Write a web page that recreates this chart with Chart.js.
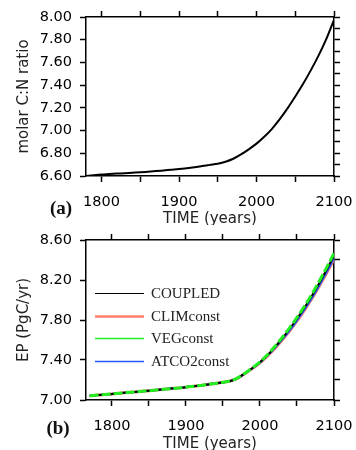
<!DOCTYPE html>
<html>
<head>
<meta charset="utf-8">
<script src="https://cdn.jsdelivr.net/npm/chart.js@4/dist/chart.umd.min.js"></script>
<style>
  body { margin: 0; background: #fff; width: 356px; height: 450px; position: relative; overflow: hidden; }
  canvas { position: absolute; left: 0; }
  #cnChart { top: 0; }
  #epChart { top: 225px; }
  .tag { position: absolute; font: bold 19px "Liberation Serif", serif; color: #111; transform: translate(-50%, -50%); }
</style>
</head>
<body>
<canvas id="cnChart" width="356" height="225"></canvas>
<canvas id="epChart" width="356" height="225"></canvas>
<div class="tag" style="left:61px; top:208px;">(a)</div>
<div class="tag" style="left:58px; top:428px;">(b)</div>
<script>
// Panel (a): molar C:N ratio
const cnYears = [1780, 1790, 1800, 1810, 1820, 1830, 1840, 1850, 1860, 1870, 1880, 1890, 1900,
  1910, 1920, 1930, 1940, 1950, 1960, 1970, 1980, 1990, 2000, 2010, 2020, 2030, 2040, 2050,
  2060, 2070, 2080, 2090, 2100];
const cnRatio = [6.600, 6.607, 6.613, 6.617, 6.621, 6.625, 6.629, 6.633, 6.638, 6.643, 6.649, 6.655, 6.661,
  6.669, 6.678, 6.688, 6.698, 6.708, 6.725, 6.752, 6.790, 6.835, 6.885, 6.945, 7.015, 7.100, 7.195, 7.300,
  7.410, 7.530, 7.660, 7.805, 7.975];

// Panel (b): EP (PgC/yr), four runs
const epYears = [1770, 1780, 1790, 1800, 1810, 1820, 1830, 1840, 1850, 1860, 1870, 1880, 1890, 1900,
  1910, 1920, 1930, 1940, 1950, 1960, 1970, 1980, 1990, 2000, 2010, 2020, 2030, 2040, 2050,
  2060, 2070, 2080, 2090, 2100];
const epCoupled = [7.043, 7.049, 7.055, 7.060, 7.067, 7.074, 7.080, 7.087, 7.093, 7.100, 7.107, 7.114, 7.121, 7.128,
  7.137, 7.146, 7.156, 7.166, 7.177, 7.190, 7.220, 7.268, 7.320, 7.378, 7.447, 7.527, 7.615, 7.710, 7.812,
  7.922, 8.040, 8.168, 8.303, 8.445];
const epClim = [7.043, 7.049, 7.055, 7.060, 7.067, 7.074, 7.080, 7.087, 7.093, 7.100, 7.107, 7.114, 7.121, 7.128,
  7.137, 7.146, 7.156, 7.166, 7.177, 7.190, 7.219, 7.266, 7.316, 7.372, 7.439, 7.515, 7.600, 7.690, 7.790,
  7.897, 8.012, 8.138, 8.270, 8.410];
const epVeg = [7.043, 7.049, 7.055, 7.060, 7.067, 7.074, 7.080, 7.087, 7.093, 7.100, 7.107, 7.114, 7.121, 7.128,
  7.137, 7.146, 7.156, 7.166, 7.177, 7.191, 7.221, 7.270, 7.323, 7.382, 7.452, 7.535, 7.625, 7.722, 7.826,
  7.937, 8.057, 8.188, 8.325, 8.468];
const epAtco2 = [7.043, 7.049, 7.055, 7.060, 7.067, 7.074, 7.080, 7.087, 7.093, 7.100, 7.107, 7.114, 7.121, 7.128,
  7.137, 7.146, 7.156, 7.166, 7.177, 7.190, 7.219, 7.266, 7.317, 7.373, 7.441, 7.518, 7.603, 7.694, 7.794,
  7.902, 8.017, 8.143, 8.276, 8.418];
const runNames = ['COUPLED', 'CLIMconst', 'VEGconst', 'ATCO2const'];

// Tick positions and which of them carry a label
const yearTicks = [1800, 1850, 1900, 1950, 2000, 2050, 2100];
const yearLabels = [1800, 1900, 2000, 2100];
const cnTicks = [6.6, 6.7, 6.8, 6.9, 7.0, 7.1, 7.2, 7.3, 7.4, 7.5, 7.6, 7.7, 7.8, 7.9, 8.0];
const cnLabels = [6.6, 6.8, 7.0, 7.2, 7.4, 7.6, 7.8, 8.0];
const epTicks = [7.0, 7.2, 7.4, 7.6, 7.8, 8.0, 8.2, 8.4, 8.6];
const epLabels = [7.0, 7.4, 7.8, 8.2, 8.6];

const toPoints = (xs, ys) => xs.map((x, i) => ({ x: x, y: ys[i] }));
const near = (list, v) => list.some(t => Math.abs(t - v) < 1e-6);

const tickFont = { family: '"DejaVu Sans"', size: 14.5 };
const titleFont = { family: '"DejaVu Sans"', size: 15 };

// fixed axis box, no extra room for overhanging labels
function fixSize(w, h) {
  return s => {
    if (w !== null) s.width = w;
    if (h !== null) s.height = h;
    s.paddingLeft = 0; s.paddingRight = 0; s.paddingTop = 0; s.paddingBottom = 0;
  };
}

// builds the four framing axes; only left and bottom get labels
function frameScales(xMin, xMax, yMin, yMax, yTicks, yLabels, yTitle, xH) {
  const grid = { drawOnChartArea: false, tickLength: 6, tickWidth: 1.5, color: '#000' };
  const border = { color: '#000', width: 1.5 };
  return {
    x: {
      type: 'linear', position: 'bottom', min: xMin, max: xMax,
      grid: grid, border: border,
      afterBuildTicks: s => { s.ticks = yearTicks.map(v => ({ value: v })); },
      afterFit: fixSize(null, xH),
      ticks: { font: tickFont, color: '#000', padding: 12, maxRotation: 0,
        callback: v => near(yearLabels, v) ? String(v) : '' },
      title: { display: true, text: 'TIME (years)', font: titleFont, color: '#222', padding: { top: 0, bottom: -3 } }
    },
    y: {
      type: 'linear', position: 'left', min: yMin, max: yMax,
      grid: grid, border: border,
      afterBuildTicks: s => { s.ticks = yTicks.map(v => ({ value: v })); },
      afterFit: fixSize(86, null),
      ticks: { font: tickFont, color: '#000', padding: 8,
        callback: v => near(yLabels, v) ? v.toFixed(2) : '' },
      title: { display: true, text: yTitle, font: titleFont, color: '#222', padding: { top: 15, bottom: 0 } }
    },
    x2: {
      type: 'linear', position: 'top', min: xMin, max: xMax,
      grid: grid, border: border,
      afterBuildTicks: s => { s.ticks = yearTicks.map(v => ({ value: v })); },
      afterFit: fixSize(null, 6),
      ticks: { display: false }
    },
    y2: {
      type: 'linear', position: 'right', min: yMin, max: yMax,
      grid: grid, border: border,
      afterBuildTicks: s => { s.ticks = yTicks.map(v => ({ value: v })); },
      afterFit: fixSize(6, null),
      ticks: { display: false }
    }
  };
}

// legend drawn inside the plot, like the original figure
const insideLegend = {
  id: 'insideLegend',
  afterDraw(chart) {
    const ctx = chart.ctx;
    ctx.save();
    ctx.font = '15px "Liberation Serif"';
    ctx.textBaseline = 'middle';
    ctx.fillStyle = '#222';
    const legendWidths = [1, 2.5, 1.5, 1.5];
    chart.data.datasets.forEach((ds, i) => {
      const y = Math.round(68 + i * 22.5) + 0.5;
      ctx.beginPath();
      ctx.strokeStyle = ds.borderColor;
      ctx.lineWidth = legendWidths[i];
      ctx.moveTo(95, y);
      ctx.lineTo(144, y);
      ctx.stroke();
      ctx.fillText(ds.label, 151, y + 1);
    });
    ctx.restore();
  }
};

const baseOpts = {
  responsive: false,
  animation: false,
  devicePixelRatio: 1,
  plugins: { legend: { display: false }, tooltip: { enabled: false } },
  elements: { point: { radius: 0 } }
};

new Chart(document.getElementById('cnChart'), {
  type: 'line',
  data: {
    datasets: [{
      label: 'C:N',
      data: toPoints(cnYears, cnRatio),
      borderColor: '#000',
      borderWidth: 2,
      cubicInterpolationMode: 'monotone'
    }]
  },
  options: Object.assign({}, baseOpts, {
    layout: { padding: { top: 11, right: 16, bottom: 0, left: 0 } },
    scales: frameScales(1780, 2100, 6.6, 8.0, cnTicks, cnLabels, 'molar C:N ratio', 49)
  })
});

new Chart(document.getElementById('epChart'), {
  type: 'line',
  data: {
    datasets: [
      { label: runNames[0], data: toPoints(epYears, epCoupled), borderColor: '#000', borderWidth: 2,
        order: 1, cubicInterpolationMode: 'monotone' },
      { label: runNames[1], data: toPoints(epYears, epClim), borderColor: '#ff7f6a', borderWidth: 3,
        order: 3, cubicInterpolationMode: 'monotone' },
      { label: runNames[2], data: toPoints(epYears, epVeg), borderColor: '#22ee22', borderWidth: 3,
        borderDash: [9, 3], order: 0, cubicInterpolationMode: 'monotone' },
      { label: runNames[3], data: toPoints(epYears, epAtco2), borderColor: '#2a55ff', borderWidth: 2,
        order: 2, cubicInterpolationMode: 'monotone' }
    ]
  },
  options: Object.assign({}, baseOpts, {
    layout: { padding: { top: 9, right: 16, bottom: 0, left: 0 } },
    scales: frameScales(1765, 2100, 7.0, 8.6, epTicks, epLabels, 'EP (PgC/yr)', 50)
  }),
  plugins: [insideLegend]
});
</script>
</body>
</html>
